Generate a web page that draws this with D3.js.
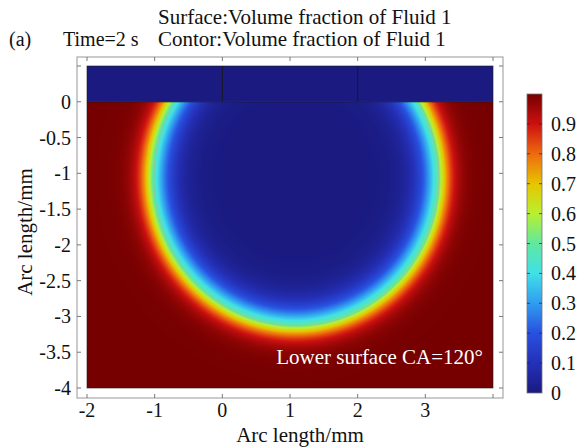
<!DOCTYPE html>
<html>
<head>
<meta charset="utf-8">
<script src="https://cdn.jsdelivr.net/npm/d3@7/dist/d3.min.js"></script>
<style>
  html, body { margin: 0; padding: 0; background: #fff; }
  svg { display: block; }
</style>
</head>
<body>
<svg id="chart" width="577" height="448"></svg>
<script>
// ---------------- data ----------------
const xTicks = [-2, -1, 0, 1, 2, 3];
const xExtraTicks = [4];
const yTicks = [0, -0.5, -1, -1.5, -2, -2.5, -3, -3.5, -4];
const yExtraTicks = [0.5];
const xDomain = [-2, 4];
const yDomain = [-4, 0.5];
const solidLayer = [0, 0.5];          // solid plate above the wall (y range, mm)
const solidDividers = [0, 2];         // vertical boundaries inside the plate (x, mm)
const dropletCenter = [1.08, -1.06];  // mm
const dropletRadii = [2.11, 2.06];    // mm (x, y)
const interfaceWidth = [0.33, 0.22];  // mm (inside, outside)
const contourLevels = [0.5];
const colorbarTicks = [0, 0.1, 0.2, 0.3, 0.4, 0.5, 0.6, 0.7, 0.8, 0.9];
const colorStopValues = [0, 0.1, 0.2, 0.3, 0.4, 0.5, 0.6, 0.7, 0.8, 0.9, 1.0];
const colorStopColors = ["#1a1a80", "#2430b8", "#2850e0", "#309cf0", "#40e0e8", "#60e8a0",
                         "#b8f030", "#e8c400", "#ee6a10", "#cc1010", "#760000"];
const titleLines = ["Surface:Volume fraction of Fluid 1", "Contor:Volume fraction of Fluid 1"];
const timeLabel = "Time=2 s";
const panelLabel = "(a)";
const annotation = "Lower surface CA=120°";
const xLabel = "Arc length/mm";
const yLabel = "Arc length/mm";

// ---------------- layout ----------------
const FONT = "'Liberation Serif', 'Times New Roman', serif";
const svg = d3.select("#chart");
const x = d3.scaleLinear().domain(xDomain).range([87, 493]);
const y = d3.scaleLinear().domain(yDomain).range([388, 66]);
const color = d3.scaleLinear().domain(colorStopValues).range(colorStopColors)
  .interpolate(d3.interpolateRgb).clamp(true);
const fmt = d => String(d);

function fraction(xv, yv) {
  const dx = (xv - dropletCenter[0]) / dropletRadii[0];
  const dy = (yv - dropletCenter[1]) / dropletRadii[1];
  const rAvg = (dropletRadii[0] + dropletRadii[1]) / 2;
  const s = (Math.sqrt(dx * dx + dy * dy) - 1) * rAvg;
  const eps = s < 0 ? interfaceWidth[0] : interfaceWidth[1];
  return 0.5 * (1 + Math.tanh(s / eps));
}

// field image (y from -4 to 0)
const px0 = Math.round(x(xDomain[0])), px1 = Math.round(x(xDomain[1]));
const py0 = Math.round(y(0)), py1 = Math.round(y(yDomain[0]));
const W = px1 - px0, H = py1 - py0;
const canvas = document.createElement("canvas");
canvas.width = W; canvas.height = H;
const ctx = canvas.getContext("2d");
const img = ctx.createImageData(W, H);
for (let j = 0; j < H; j++) {
  const yv = y.invert(py0 + j + 0.5);
  for (let i = 0; i < W; i++) {
    const xv = x.invert(px0 + i + 0.5);
    const c = d3.rgb(color(fraction(xv, yv)));
    const k = (j * W + i) * 4;
    img.data[k] = c.r; img.data[k + 1] = c.g; img.data[k + 2] = c.b; img.data[k + 3] = 255;
  }
}
ctx.putImageData(img, 0, 0);
svg.append("image")
  .attr("x", px0).attr("y", py0).attr("width", W).attr("height", H)
  .attr("preserveAspectRatio", "none")
  .attr("href", canvas.toDataURL());

// solid plate
svg.append("rect")
  .attr("x", x(xDomain[0])).attr("y", y(solidLayer[1]))
  .attr("width", x(xDomain[1]) - x(xDomain[0]))
  .attr("height", y(solidLayer[0]) - y(solidLayer[1]))
  .attr("fill", color(0));

// contour from grid
const step = 2;
const gw = Math.ceil(W / step) + 1, gh = Math.ceil(H / step) + 1;
const values = new Array(gw * gh);
for (let j = 0; j < gh; j++) {
  for (let i = 0; i < gw; i++) {
    values[j * gw + i] = fraction(x.invert(px0 + i * step), y.invert(py0 + j * step));
  }
}
const contours = d3.contours().size([gw, gh]).thresholds(contourLevels).smooth(true)(values);
const proj = d3.geoTransform({
  point: function (a, b) { this.stream.point(px0 + a * step, py0 + b * step); }
});
const defs = svg.append("defs");
defs.append("clipPath").attr("id", "fieldClip")
  .append("rect").attr("x", px0 + 1).attr("y", py0 + 1).attr("width", W - 2).attr("height", H - 2);
svg.append("g").attr("clip-path", "url(#fieldClip)")
  .selectAll("path").data(contours).join("path")
  .attr("d", d3.geoPath(proj))
  .attr("fill", "none").attr("stroke", "#a0c0a0").attr("stroke-width", 1).attr("stroke-opacity", 0.85);

// geometry boundaries
const geo = svg.append("g").attr("stroke", "#1a1a1a").attr("stroke-width", 1).attr("fill", "none");
geo.append("rect")
  .attr("x", x(xDomain[0])).attr("y", y(solidLayer[1]))
  .attr("width", x(xDomain[1]) - x(xDomain[0]))
  .attr("height", y(yDomain[0]) - y(solidLayer[1]))
  .attr("stroke-opacity", 0.6);
geo.append("line").attr("x1", x(xDomain[0])).attr("x2", x(xDomain[1]))
  .attr("y1", y(0)).attr("y2", y(0));
geo.selectAll("line.div").data(solidDividers).join("line").attr("class", "div")
  .attr("x1", d => x(d)).attr("x2", d => x(d))
  .attr("y1", y(solidLayer[1])).attr("y2", y(solidLayer[0]));

// frame
const fx0 = x(xDomain[0]) - 10, fx1 = x(xDomain[1]) + 10;
const fy0 = y(yDomain[1]) - 9, fy1 = y(yDomain[0]) + 10;
svg.append("rect").attr("x", fx0).attr("y", fy0).attr("width", fx1 - fx0).attr("height", fy1 - fy0)
  .attr("fill", "none").attr("stroke", "#a8a8a8").attr("stroke-width", 1.2);

const allX = xTicks.concat(xExtraTicks), allY = yTicks.concat(yExtraTicks);
const tk = svg.append("g").attr("stroke", "#777").attr("stroke-width", 1);
tk.selectAll("line.tb").data(allX).join("line").attr("class", "tb")
  .attr("x1", d => x(d)).attr("x2", d => x(d)).attr("y1", fy1).attr("y2", fy1 - 4);
tk.selectAll("line.tt").data(allX).join("line").attr("class", "tt")
  .attr("x1", d => x(d)).attr("x2", d => x(d)).attr("y1", fy0).attr("y2", fy0 + 4);
tk.selectAll("line.tl").data(allY).join("line").attr("class", "tl")
  .attr("y1", d => y(d)).attr("y2", d => y(d)).attr("x1", fx0).attr("x2", fx0 + 4);
tk.selectAll("line.tr").data(allY).join("line").attr("class", "tr")
  .attr("y1", d => y(d)).attr("y2", d => y(d)).attr("x1", fx1).attr("x2", fx1 - 4);

function txt(sel) { return sel.attr("font-family", FONT).attr("fill", "#111"); }

// tick labels
txt(svg.selectAll("text.xt").data(xTicks).join("text").attr("class", "xt"))
  .attr("x", d => x(d)).attr("y", 417).attr("text-anchor", "middle")
  .attr("font-size", 20).text(fmt);
txt(svg.selectAll("text.yt").data(yTicks).join("text").attr("class", "yt"))
  .attr("x", 71).attr("y", d => y(d) + 7).attr("text-anchor", "end")
  .attr("font-size", 20).text(fmt);

// axis labels
txt(svg.append("text")).attr("x", 300).attr("y", 442).attr("text-anchor", "middle")
  .attr("font-size", 21).text(xLabel);
txt(svg.append("text")).attr("transform", "translate(32,232) rotate(-90)").attr("text-anchor", "middle")
  .attr("font-size", 21).text(yLabel);

// titles
txt(svg.append("text")).attr("x", 9).attr("y", 46).attr("font-size", 20).text(panelLabel);
txt(svg.append("text")).attr("x", 63).attr("y", 46).attr("font-size", 20).text(timeLabel);
txt(svg.selectAll("text.title").data(titleLines).join("text").attr("class", "title"))
  .attr("x", 158).attr("y", (d, i) => 24 + i * 22).attr("font-size", 21).text(d => d);

// annotation
svg.append("text").attr("x", 483).attr("y", 364).attr("text-anchor", "end")
  .attr("font-family", FONT).attr("font-size", 21).attr("fill", "#fff").text(annotation);

// colorbar
const cb = d3.scaleLinear().domain([0, 1]).range([393, 94]);
const cbx = 527, cbw = 15;
const grad = defs.append("linearGradient").attr("id", "cbGrad")
  .attr("x1", 0).attr("y1", 1).attr("x2", 0).attr("y2", 0);
grad.selectAll("stop").data(d3.range(0, 1.0001, 0.02)).join("stop")
  .attr("offset", d => d).attr("stop-color", d => color(d));
svg.append("rect").attr("x", cbx).attr("y", cb(1)).attr("width", cbw).attr("height", cb(0) - cb(1))
  .attr("fill", "url(#cbGrad)").attr("stroke", "#777").attr("stroke-width", 0.8);
const cbt = svg.append("g").attr("stroke", "#222").attr("stroke-opacity", 0.7).attr("stroke-width", 1);
cbt.selectAll("line.l").data(colorbarTicks.slice(1)).join("line").attr("class", "l")
  .attr("x1", cbx).attr("x2", cbx + 3).attr("y1", d => cb(d)).attr("y2", d => cb(d));
cbt.selectAll("line.r").data(colorbarTicks.slice(1)).join("line").attr("class", "r")
  .attr("x1", cbx + cbw - 3).attr("x2", cbx + cbw).attr("y1", d => cb(d)).attr("y2", d => cb(d));
txt(svg.selectAll("text.cbt").data(colorbarTicks).join("text").attr("class", "cbt"))
  .attr("x", 551).attr("y", d => cb(d) + 7).attr("font-size", 20)
  .text(fmt);
</script>
</body>
</html>
